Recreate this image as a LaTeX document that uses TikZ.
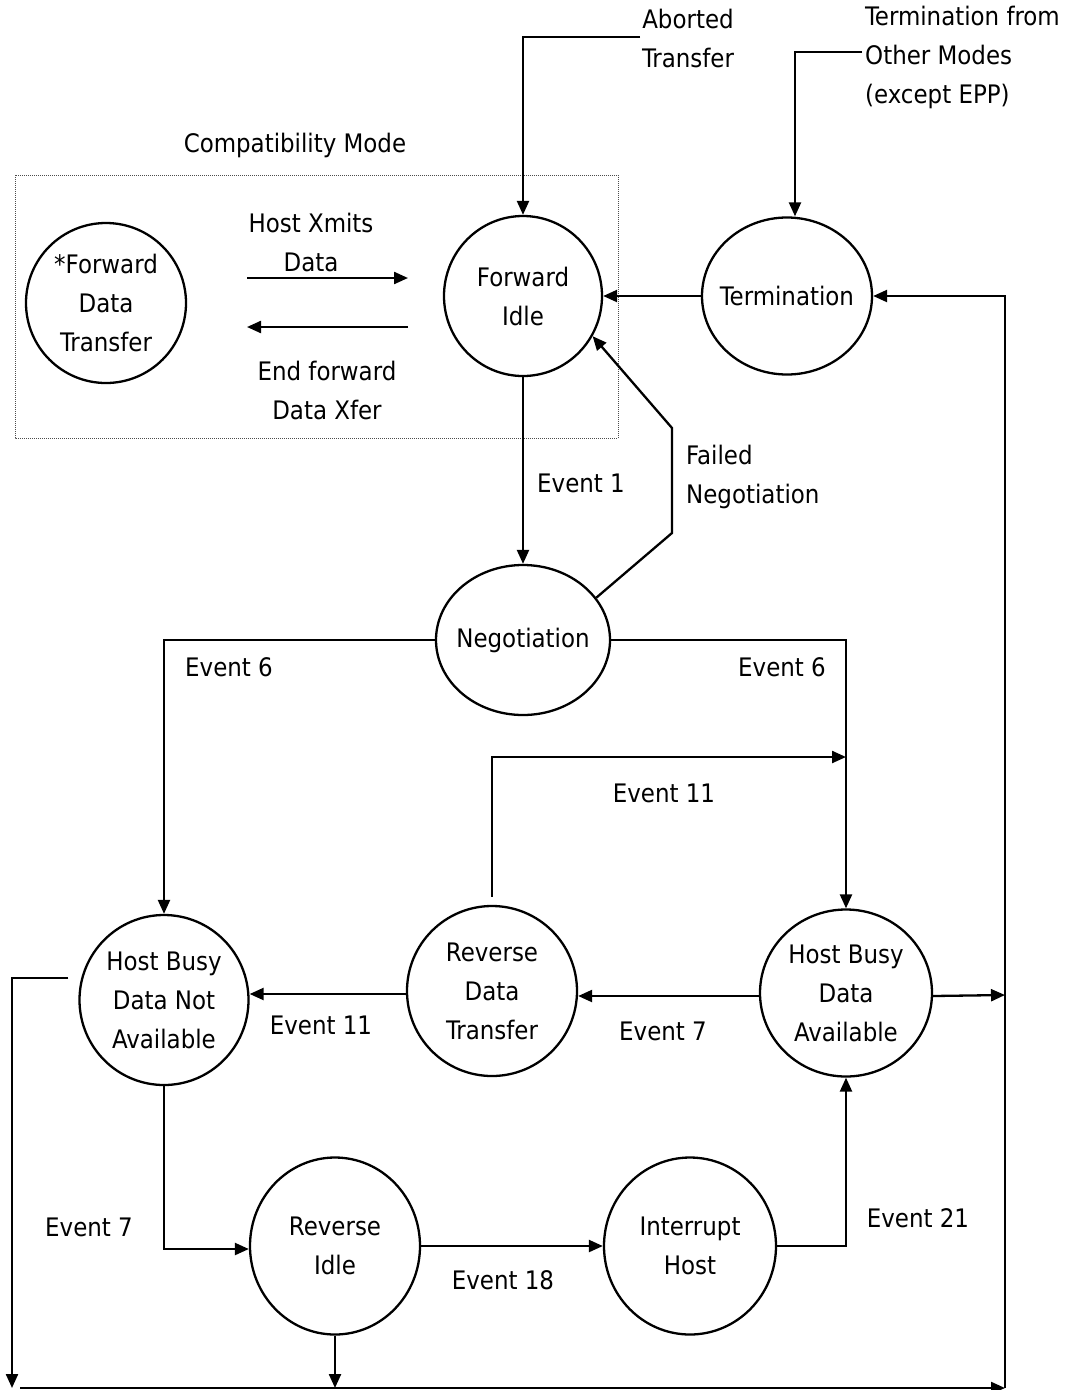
\documentclass[tikz,border=0pt]{standalone}
\usepackage{fontspec}
\setmainfont{DejaVu Sans Condensed}
\usepackage{tikz}
\usetikzlibrary{
  shapes.geometric, calc, positioning, arrows.meta
}

\begin{document}
\begin{tikzpicture}[x=1pt, y=-1pt,
    state/.style={ellipse, draw, line width=2.3pt, inner sep=0pt, align=center,
      font=\fontsize{25.5}{39}\selectfont},
    lbl/.style={inner sep=0pt, align=center, font=\fontsize{25.5}{39}\selectfont},
    flow/.style={line width=2.3pt, -{Triangle[length=14pt, width=12pt]}}
  ]
      \useasboundingbox (0,0) rectangle (1072,1390);
      % compatibility mode box
      \draw[densely dotted, line width=1pt, black!70] (15,175) rectangle (618,438);
      \node[lbl] (compat) at (295,145) {Compatibility Mode};
      % states
      \node[state, minimum width=160pt, minimum height=160pt] (fdt) at (106,303) {*Forward\\Data\\Transfer};
      \node[state, minimum width=158pt, minimum height=160pt] (fi) at (523,296) {Forward\\Idle};
      \node[state, inner xsep=-9pt, minimum width=170pt, minimum height=157pt] (term) at (787,296) {Termination};
      \node[state, inner xsep=-9pt, minimum width=174pt, minimum height=150pt] (neg) at (523,640) {Negotiation};
      \node[state, minimum width=169pt, minimum height=170pt] (hbdna) at (164,1000) {Host Busy\\Data Not\\Available};
      \node[state, minimum width=170pt, minimum height=170pt] (rdt) at (492,991) {Reverse\\Data\\Transfer};
      \node[state, minimum width=172pt, minimum height=167pt] (hbda) at (846,993) {Host Busy\\Data\\Available};
      \node[state, minimum width=170pt, minimum height=177pt] (ri) at (335,1246) {Reverse\\Idle};
      \node[state, minimum width=172pt, minimum height=177pt] (ih) at (690,1246) {Interrupt\\Host};
      % entry labels
      \node[lbl] (abl) at (688,38) {Aborted\\Transfer};
      \node[lbl, align=left, anchor=west] (tml) at (865,57) {Termination from\\Other Modes\\(except EPP)};
      \coordinate (abin) at (640,37);
      \coordinate (tmin) at (862,52);
      \draw[flow] (abin) -| (fi.north);
      \draw[flow] (tmin) -| ([xshift=8pt]term.north);
      % forward transfer
      \coordinate (hx1) at (247,278);
      \coordinate (hx2) at (408,278);
      \coordinate (ef1) at (408,327);
      \coordinate (ef2) at (247,327);
      \draw[flow] (hx1) -- (hx2);
      \draw[flow] (ef1) -- (ef2);
      \node[lbl] (hxl) at (311,242) {Host Xmits\\Data};
      \node[lbl] (efl) at (327,390) {End forward\\Data Xfer};
      \draw[flow] (term.west) -- (fi.east);
      % negotiation
      \draw[flow] (fi.south) -- (neg.north);
      \node[lbl] (e1) at (581,483) {Event 1};
      \coordinate (fn1) at (672,533);
      \coordinate (fn2) at (672,428);
      \draw[flow] (neg.30) -- (fn1) -- (fn2) -- (fi.-30);
      \node[lbl, align=left, anchor=west] (fnl) at (686,477) {Failed\\Negotiation};
      \draw[flow] (neg.west) -| (hbdna.north);
      \draw[flow] (neg.east) -| (hbda.north);
      \node[lbl] (e6a) at (229,667) {Event 6};
      \node[lbl] (e6b) at (782,667) {Event 6};
      % reverse data
      \coordinate (e11in) at (hbda.north |- 0,757);
      \draw[flow] ([yshift=8pt]rdt.north) |- (e11in);
      \node[lbl] (e11a) at (664,793) {Event 11};
      \draw[flow] ([yshift=-3pt]hbda.west) -- ([yshift=-3pt]hbda.west -| rdt.east);
      \node[lbl] (e7a) at (663,1031) {Event 7};
      \draw[flow] ([yshift=-3pt]rdt.west) -- ([yshift=-3pt]rdt.west -| hbdna.east);
      \node[lbl] (e11b) at (321,1025) {Event 11};
      \draw[flow] (hbdna.south) |- ([yshift=-3pt]ri.west);
      \node[lbl] (e7b) at (89,1227) {Event 7};
      \draw[flow] (ri.east) -- (ih.west);
      \node[lbl] (e18) at (503,1280) {Event 18};
      \draw[flow] (ih.east) -| (hbda.south);
      \node[lbl] (e21) at (918,1218) {Event 21};
      % termination bus
      \coordinate (rbus) at (1005,995);
      \coordinate (lbus) at (12,1388);
      \coordinate (bl) at (20,1388);
      \coordinate (br) at (1005,1388);
      \draw[flow] ([yshift=-3pt]hbda.east) -- (rbus);
      \draw[flow] ([xshift=-10pt,yshift=22pt]hbdna.west) -| (lbus);
      \draw[flow] (ri.south) -- (ri.south |- bl);
      \draw[flow] (bl) -- (br);
      \draw[flow] (br) |- (term.east);
    \end{tikzpicture}
\end{document}
